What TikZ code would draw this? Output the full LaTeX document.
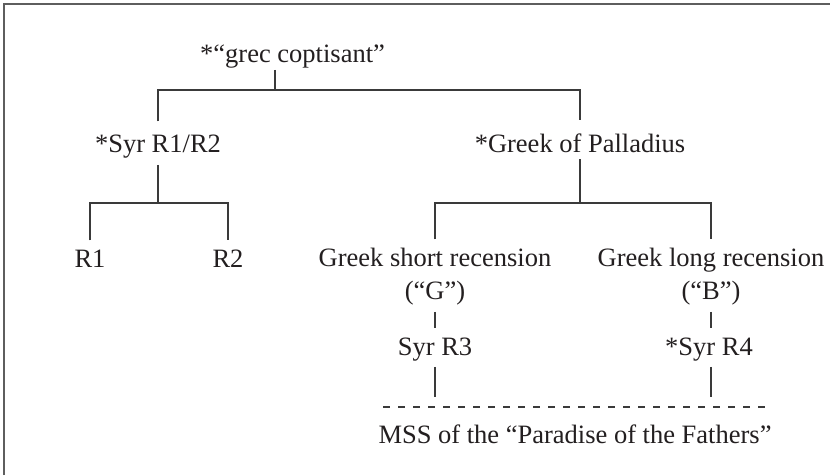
\documentclass[tikz,border=0pt]{standalone}
\usepackage{fontspec}
\setmainfont{Liberation Serif}
\definecolor{txt}{HTML}{231F20}
\definecolor{lnc}{HTML}{3A3A3A}
\definecolor{frc}{HTML}{5E5E5E}
\tikzset{
  lbl/.style={inner sep=0pt, anchor=base, text=txt, font=\fontsize{26.5}{32}\selectfont},
  ln/.style={draw=lnc, line width=1.2pt},
  dsh/.style={draw=lnc, line width=1.2pt, dash pattern=on 7pt off 8pt},
  frm/.style={draw=frc, line width=2pt}
}
\begin{document}
\begin{tikzpicture}[x=1pt,y=-1pt]
\useasboundingbox (0,0) rectangle (830,475);
\fill[white] (0,0) rectangle (830,475);
\draw[frm] (3.5,475) -- (3.5,4) -- (830,4);

\node[lbl, anchor=base west] (grec) at (200,62) {*“grec coptisant”};
\node[lbl] (syr12) at (158,152) {*Syr R1/R2};
\node[lbl] (palla) at (580,152) {*Greek of Palladius};
\node[lbl] (r1) at (90,267) {R1};
\node[lbl] (r2) at (228,267) {R2};
\node[lbl] (short) at (435,266) {Greek short recension};
\node[lbl] (g) at (435,299) {(“G”)};
\node[lbl] (long) at (711,266) {Greek long recension};
\node[lbl] (b) at (711,299) {(“B”)};
\node[lbl] (r3) at (435,355) {Syr R3};
\node[lbl] (r4) at (709,355) {*Syr R4};
\node[lbl] (mss) at (575,443) {MSS of the “Paradise of the Fathers”};

\coordinate (j0) at (275,90);
\coordinate (j1) at (158,203);
\coordinate (j2) at (580,203);
\coordinate (dl) at (383,407);
\coordinate (dr) at (767,407);

\draw[ln] ([yshift=-2pt]grec.south -| j0) -- (j0);
\draw[ln] ([yshift=13pt]syr12.north) |- (j0) -| ([yshift=13pt]palla.north);

\draw[ln] ([yshift=-7pt]syr12.south) -- (j1);
\draw[ln] ([yshift=9pt]r1.north) |- (j1) -| ([yshift=9pt]r2.north);

\draw[ln] ([yshift=-7pt]palla.south) -- (j2);
\draw[ln] ([yshift=8pt]short.north) |- (j2) -| ([yshift=8pt]long.north);

\draw[ln] ([yshift=-7pt]g.south) -- ([yshift=9pt]r3.north);
\draw[ln] ([yshift=-7pt]b.south) -- ([yshift=9pt]r3.north -| b);

\draw[ln] ([yshift=-6pt]r3.south) -- ++(0,30);
\draw[ln] ([yshift=-6pt]r3.south -| b) -- ++(0,30);

\draw[dsh] (dl) -- (dr);
\end{tikzpicture}
\end{document}
